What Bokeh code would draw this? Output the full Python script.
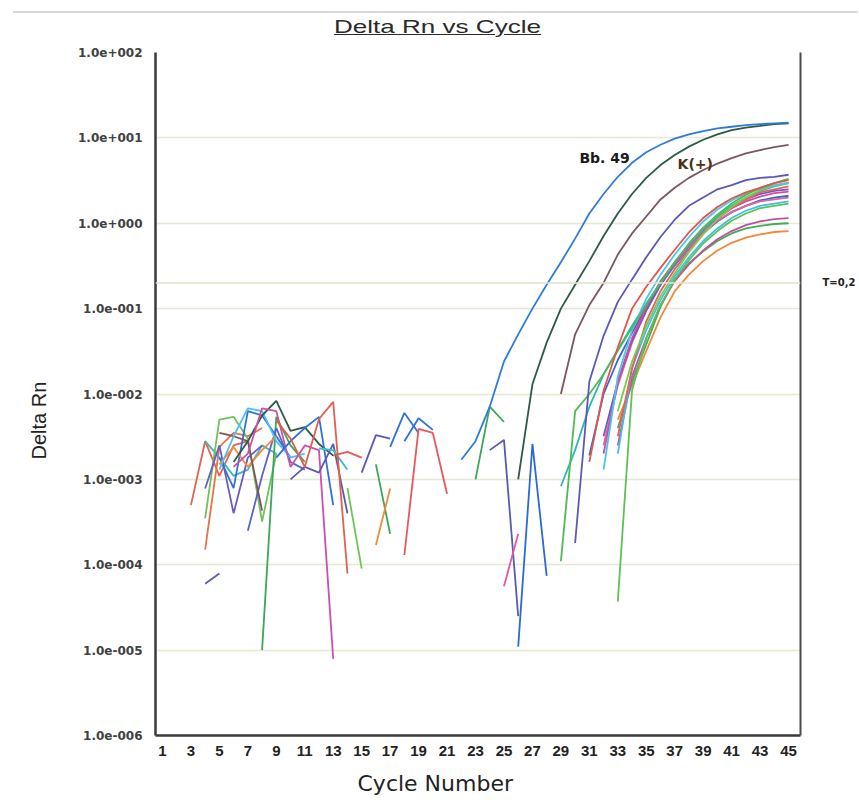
from bokeh.plotting import figure
from bokeh.models import FixedTicker, LogAxis, Span, Label, Div, Title
from bokeh.layouts import column
from bokeh.embed import file_html
from bokeh.resources import INLINE

# ---------------- data ----------------
title_text = "Delta Rn vs Cycle"
x_label = "Cycle Number"
y_label = "Delta Rn"
x_ticks = [1, 3, 5, 7, 9, 11, 13, 15, 17, 19, 21, 23, 25, 27, 29, 31, 33, 35, 37, 39, 41, 43, 45]
y_ticks = [1e-6, 1e-5, 1e-4, 1e-3, 1e-2, 1e-1, 1e0, 1e1, 1e2]
y_tick_labels = ["1.0e-006", "1.0e-005", "1.0e-004", "1.0e-003", "1.0e-002",
                 "1.0e-001", "1.0e+000", "1.0e+001", "1.0e+002"]
threshold = 0.2
threshold_label = "T=0,2"

# amplification curves: first cycle and Delta Rn per cycle
bb49_start = 22
bb49 = [0.0017, 0.0028, 0.0071, 0.024, 0.050, 0.10, 0.19, 0.35, 0.66, 1.3, 2.2, 3.5,
        5.1, 6.8, 8.3, 9.8, 11.0, 12.0, 12.9, 13.5, 14.1, 14.5, 14.8, 15.1]
kpos_start = 26
kpos = [0.0010, 0.013, 0.040, 0.10, 0.19, 0.36, 0.71, 1.3, 2.2, 3.4, 4.8, 6.3, 7.9,
        9.5, 11.0, 12.3, 13.2, 13.8, 14.5, 14.8]
brown_start = 29
brown = [0.010, 0.050, 0.11, 0.20, 0.43, 0.76, 1.2, 1.9, 2.6, 3.4, 4.2, 5.0, 5.8, 6.6, 7.2, 7.8, 8.3]
purple_start = 30
purple = [0.00018, 0.014, 0.048, 0.12, 0.22, 0.40, 0.69, 1.1, 1.6, 2.0, 2.5, 2.8, 3.2, 3.4, 3.5, 3.7]

red_a_start = 31
red_a = [0.0016, 0.011, 0.035, 0.10, 0.18, 0.30, 0.49, 0.78, 1.15, 1.55, 1.95, 2.3, 2.6, 2.95, 3.2]
cyan_a_start = 32
cyan_a = [0.0013, 0.016, 0.056, 0.13, 0.25, 0.43, 0.69, 1.05, 1.45, 1.85, 2.25, 2.55, 2.8, 3.0]
green_a_start = 29
green_a = [0.00011, 0.0063, 0.010, 0.017, 0.032, 0.060, 0.11, 0.20, 0.35, 0.58, 0.89, 1.26,
           1.7, 2.15, 2.6, 2.95, 3.3]
teal_a_start = 29
teal_a = [0.00083, 0.0022, 0.0071, 0.017, 0.033, 0.063, 0.115, 0.20, 0.35, 0.56, 0.85, 1.2,
          1.6, 2.0, 2.4, 2.7, 2.95]
magenta_a_start = 32
magenta_a = [0.0020, 0.014, 0.045, 0.105, 0.21, 0.35, 0.56, 0.83, 1.15, 1.5, 1.8, 2.05, 2.25, 2.35]
blue_a_start = 31
blue_a = [0.0019, 0.010, 0.025, 0.052, 0.105, 0.19, 0.32, 0.51, 0.76, 1.05, 1.35, 1.6, 1.85, 2.0, 2.1]
cyan_b_start = 33
cyan_b = [0.0020, 0.020, 0.056, 0.126, 0.24, 0.40, 0.62, 0.87, 1.15, 1.4, 1.6, 1.7, 1.8]
green_b_start = 33
green_b = [0.000037, 0.011, 0.045, 0.11, 0.22, 0.37, 0.58, 0.81, 1.07, 1.3, 1.5, 1.6, 1.7]
magenta_b_start = 33
magenta_b = [0.0025, 0.016, 0.045, 0.11, 0.21, 0.33, 0.48, 0.65, 0.81, 0.95, 1.05, 1.12, 1.15]
green_c_start = 33
green_c = [0.0040, 0.014, 0.038, 0.105, 0.22, 0.34, 0.47, 0.62, 0.76, 0.87, 0.93, 0.98, 1.0]
orange_a_start = 33
orange_a = [0.0050, 0.0126, 0.032, 0.079, 0.16, 0.25, 0.36, 0.48, 0.59, 0.68, 0.74, 0.79, 0.81]
pink_a_start = 32
pink_a = [0.0025, 0.0126, 0.040, 0.095, 0.19, 0.33, 0.52, 0.78, 1.07, 1.35, 1.6, 1.8, 1.9, 2.0]
red_b_start = 33
red_b = [0.0032, 0.020, 0.071, 0.16, 0.29, 0.48, 0.76, 1.12, 1.5, 1.9, 2.3, 2.5, 2.7]
lgreen_a_start = 33
lgreen_a = [0.0063, 0.024, 0.063, 0.14, 0.26, 0.46, 0.74, 1.12, 1.55, 2.0, 2.45, 2.75, 2.95]
indigo_a_start = 32
indigo_a = [0.0032, 0.014, 0.042, 0.095, 0.19, 0.34, 0.55, 0.83, 1.17, 1.55, 1.9, 2.2, 2.4, 2.5]

# baseline noise fragments (first cycle, values)
n_red1_start = 3
n_red1 = [0.00050, 0.0028, 0.0011, 0.0025, 0.0028]
n_red2_start = 4
n_red2 = [0.00015, 0.0024, 0.0035, 0.0032, 0.0040]
n_teal_start = 4
n_teal = [0.0028, 0.0018, 0.0011, 0.0013, 0.0025, 0.0020]
n_lgreen_start = 4
n_lgreen = [0.00035, 0.0050, 0.0054, 0.0030, 0.00032, 0.0020]
n_gdrop_start = 8
n_gdrop = [0.000010, 0.0054, 0.0025, 0.0016]
n_purple_start = 4
n_purple = [0.00078, 0.0025, 0.00040, 0.0018, 0.0025]
n_indigo_start = 7
n_indigo = [0.00025, 0.0011, 0.0040, 0.0016, 0.0013]
n_blue_start = 5
n_blue = [0.0018, 0.00079, 0.0063, 0.0056, 0.0032, 0.0018]
n_dgreen_start = 6
n_dgreen = [0.0016, 0.0028, 0.0056, 0.0083, 0.0037, 0.0041, 0.0026, 0.0019]
n_cyan_start = 5
n_cyan = [0.0013, 0.0032, 0.0068, 0.0063, 0.0028, 0.0018, 0.0020]
n_magenta_start = 6
n_magenta = [0.0014, 0.0020, 0.0068, 0.0063, 0.0014, 0.0025, 0.0022, 0.0000079]
n_orange_start = 5
n_orange = [0.0015, 0.0024, 0.0014, 0.0022, 0.0032]
n_brown_start = 5
n_brown = [0.0035, 0.0032, 0.0028, 0.00043]
n_blue2_start = 9
n_blue2 = [0.0018, 0.0028, 0.0040, 0.0054, 0.00050]
n_purple2_start = 10
n_purple2 = [0.0010, 0.0014, 0.0012, 0.0026, 0.00040]
n_teal2_start = 12
n_teal2 = [0.0023, 0.0022, 0.0013]
n_red3_start = 13
n_red3 = [0.0019, 0.0021, 0.0018]
n_redtall_start = 9
n_redtall = [0.0049, 0.0030, 0.0014, 0.0051, 0.0081, 0.000079]
n_bluelow_start = 4
n_bluelow = [0.000060, 0.000079]
n_green4_start = 14
n_green4 = [0.00079, 0.00009]
m_purple_start = 15
m_purple = [0.0012, 0.0033, 0.0030]
m_blue1_start = 17
m_blue1 = [0.0024, 0.0060, 0.0035]
m_blue2_start = 18
m_blue2 = [0.0028, 0.0052, 0.0038]
m_red_start = 18
m_red = [0.00013, 0.0039, 0.0035, 0.00068]
m_green_start = 16
m_green = [0.0015, 0.00023]
m_orange_start = 16
m_orange = [0.00017, 0.00078]
l_green_start = 23
l_green = [0.0010, 0.0071, 0.0047]
l_purple_start = 24
l_purple = [0.0022, 0.0029, 0.000025]
l_pink_start = 25
l_pink = [0.000056, 0.00023]
l_blue_start = 26
l_blue = [0.000011, 0.0026, 0.000074]

noise_series = [
    (n_red1_start, n_red1, "#e2634e"), (n_red2_start, n_red2, "#e8704a"),
    (n_teal_start, n_teal, "#3fb7bd"), (n_lgreen_start, n_lgreen, "#6cc35a"),
    (n_gdrop_start, n_gdrop, "#3aa856"), (n_purple_start, n_purple, "#6b5bc4"),
    (n_indigo_start, n_indigo, "#5a63c8"), (n_blue_start, n_blue, "#2f72d6"),
    (n_orange_start, n_orange, "#f28a3a"), (n_brown_start, n_brown, "#7b5661"),
    (n_cyan_start, n_cyan, "#4ac3ec"), (n_dgreen_start, n_dgreen, "#2f5a45"),
    (n_magenta_start, n_magenta, "#cc4fb0"), (n_blue2_start, n_blue2, "#2f72d6"),
    (n_purple2_start, n_purple2, "#5b5ab0"), (n_teal2_start, n_teal2, "#3ec0c8"),
    (n_red3_start, n_red3, "#e25a50"), (n_redtall_start, n_redtall, "#e0604c"),
    (n_bluelow_start, n_bluelow, "#5b5ab0"), (n_green4_start, n_green4, "#6cc35a"),
    (m_purple_start, m_purple, "#5b5ab0"), (m_blue1_start, m_blue1, "#2f72d6"),
    (m_blue2_start, m_blue2, "#2f72d6"), (m_red_start, m_red, "#e8585a"),
    (m_green_start, m_green, "#3aa856"), (m_orange_start, m_orange, "#f28a3a"),
    (l_green_start, l_green, "#3aa856"), (l_purple_start, l_purple, "#5b5ab0"),
    (l_pink_start, l_pink, "#e056a8"), (l_blue_start, l_blue, "#2a6ad4"),
]
cluster_series = [
    (orange_a_start, orange_a, "#f2883a"), (green_c_start, green_c, "#3fae5a"),
    (magenta_b_start, magenta_b, "#c24f9e"), (green_b_start, green_b, "#5cc158"),
    (cyan_b_start, cyan_b, "#3fc0e6"), (blue_a_start, blue_a, "#2f68cf"),
    (pink_a_start, pink_a, "#e8609e"), (indigo_a_start, indigo_a, "#6a5ac8"),
    (magenta_a_start, magenta_a, "#d6489c"), (red_b_start, red_b, "#e66060"),
    (teal_a_start, teal_a, "#2fb5b5"), (lgreen_a_start, lgreen_a, "#7acb4e"),
    (cyan_a_start, cyan_a, "#45c6ee"), (green_a_start, green_a, "#4dbb53"),
    (red_a_start, red_a, "#e5534b"),
]
main_series = [
    (purple_start, purple, "#5c58b5"), (brown_start, brown, "#7b5661"),
    (kpos_start, kpos, "#2d5a44"), (bb49_start, bb49, "#2f7bd9"),
]

# ---------------- figure ----------------
W = 858
TITLE_H = 44
title_div = Div(
    text=(
        '<div style="position:relative;width:858px;height:44px;">'
        '<div style="position:absolute;left:13px;top:11px;width:845px;border-top:2px solid #d9d9d9;"></div>'
        '<div style="position:absolute;left:0;top:16px;width:858px;text-align:center;">'
        '<span style="display:inline-block;font-family:\'Liberation Sans\',Arial,sans-serif;'
        'font-size:19px;line-height:22px;color:#2a2a2a;text-decoration:underline;'
        'transform:scaleX(1.37);margin-left:16px;">' + title_text + '</span></div></div>'
    ),
    width=W, height=TITLE_H, margin=0,
)

p = figure(width=W, height=761, y_axis_type="log",
           x_range=(0.51, 45.84), y_range=(1e-6, 1e2),
           output_backend="svg", toolbar_location=None,
           min_border_left=155, min_border_right=53, min_border_top=8, min_border_bottom=67)
p.outline_line_color = None
p.background_fill_color = "white"
p.border_fill_color = "white"
p.xgrid.visible = False
p.ygrid.ticker = FixedTicker(ticks=y_ticks)
p.ygrid.grid_line_color = "#e8e7d2"
p.ygrid.grid_line_width = 1.5

# y axis
p.yaxis.ticker = FixedTicker(ticks=y_ticks)
p.yaxis.major_label_overrides = dict(zip(y_ticks, y_tick_labels))
p.yaxis.axis_line_color = "#3a3a3a"
p.yaxis.axis_line_width = 2.5
p.yaxis.major_tick_line_color = None
p.yaxis.minor_tick_line_color = None
p.yaxis.major_label_text_font = "DejaVu Sans"
p.yaxis.major_label_text_font_size = "12px"
p.yaxis.major_label_text_font_style = "bold"
p.yaxis.major_label_text_color = "#404040"
p.yaxis.major_label_standoff = 7

# x axis
p.xaxis.ticker = FixedTicker(ticks=x_ticks)
p.xaxis.axis_line_color = "#3a3a3a"
p.xaxis.axis_line_width = 2.5
p.xaxis.major_tick_line_color = None
p.xaxis.minor_tick_line_color = None
p.xaxis.major_label_text_font = "Liberation Sans"
p.xaxis.major_label_text_font_size = "15px"
p.xaxis.major_label_text_font_style = "bold"
p.xaxis.major_label_text_color = "#222222"
p.xaxis.major_label_standoff = 4

# axis titles placed off-centre as in the original
p.add_layout(Title(text=x_label, align="left", offset=202, standoff=20,
                   text_font="DejaVu Sans", text_font_size="22px",
                   text_font_style="normal", text_color="#222222"), "below")
p.add_layout(Title(text=y_label, align="left", offset=276, standoff=49,
                   text_font="Liberation Sans", text_font_size="20px",
                   text_font_style="normal", text_color="#222222"), "left")

# right border axis carrying the threshold label
raxis = LogAxis(ticker=FixedTicker(ticks=[threshold]),
                major_label_overrides={threshold: threshold_label})
raxis.axis_line_color = "#4a4a4a"
raxis.axis_line_width = 2
raxis.major_tick_line_color = None
raxis.minor_tick_line_color = None
raxis.major_label_text_font = "DejaVu Sans"
raxis.major_label_text_font_size = "10px"
raxis.major_label_text_font_style = "bold"
raxis.major_label_text_color = "#222222"
raxis.major_label_standoff = 16
p.add_layout(raxis, "right")

p.add_layout(Span(location=threshold, dimension="width", line_color="#e3e2cc", line_width=1.5))

for group in (noise_series, cluster_series, main_series):
    for start, vals, color in group:
        cycles = list(range(start, start + len(vals)))
        p.line(x=cycles, y=vals, line_color=color, line_width=1.8)

p.add_layout(Label(x=30.3, y=5.8, text="Bb. 49", text_font="DejaVu Sans",
                   text_font_size="14px", text_font_style="bold", text_color="#1a1a1a",
                   text_baseline="alphabetic"))
p.add_layout(Label(x=37.2, y=4.95, text="K(+)", text_font="DejaVu Sans",
                   text_font_size="14px", text_font_style="bold", text_color="#4a3016",
                   text_baseline="alphabetic"))

layout = column(title_div, p, spacing=0)
open("out.html", "w").write(file_html(layout, INLINE))
